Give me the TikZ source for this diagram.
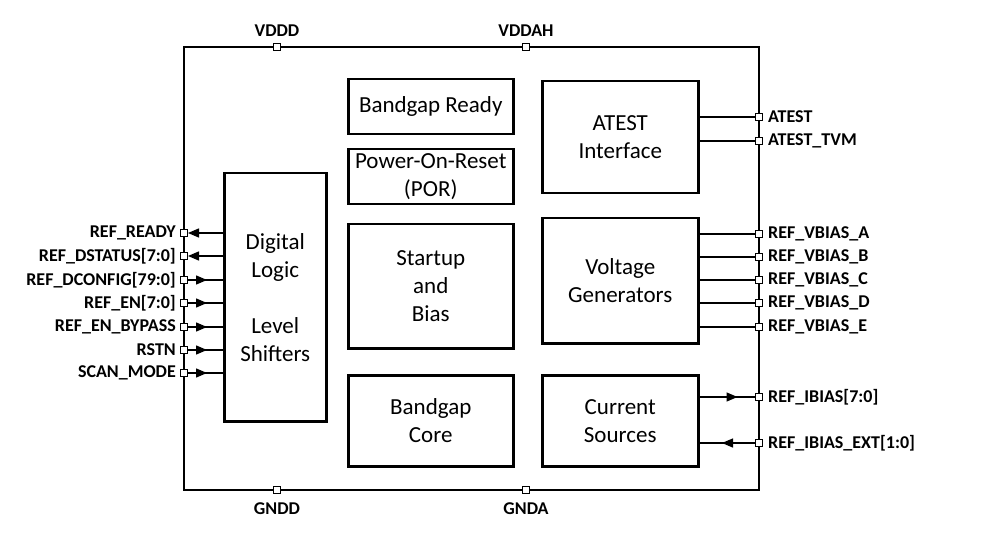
\documentclass[tikz,border=0pt]{standalone}
\usepackage{fontspec}
\setmainfont{Carlito}
\usetikzlibrary{arrows.meta,decorations.markings}
\begin{document}
\begin{tikzpicture}[x=1pt,y=-1pt,
  blk/.style={draw,line width=2.5pt,anchor=north west,inner sep=0pt,align=center,font=\fontsize{23}{28}\selectfont},
  pin/.style={draw,line width=1pt,fill=white,minimum size=7pt,inner sep=0pt},
  conn/.style={line width=1.3pt},
  tipat/.style={postaction={decorate},decoration={markings,mark=at position #1 with {\arrow{Triangle[length=11pt,width=9pt]}}}},
  plab/.style={font=\fontsize{18}{20}\selectfont\bfseries,inner sep=0pt}]
\useasboundingbox (0,0) rectangle (996,545);
% outer box
\draw[line width=2.6pt] (184,47) rectangle (759,490);
% blocks
\node[blk,minimum width=102pt,minimum height=248pt] (dl) at (223,172) {Digital\\Logic\\[28pt]Level\\Shifters};
\node[blk,minimum width=165pt,minimum height=55pt] (bgr) at (347,78) {Bandgap Ready};
\node[blk,minimum width=165pt,minimum height=55pt] (por) at (347,148) {Power-On-Reset\\(POR)};
\node[blk,minimum width=165pt,minimum height=124pt] (sb) at (347,223) {Startup\\and\\Bias};
\node[blk,minimum width=165pt,minimum height=91pt] (bgc) at (347,374) {Bandgap\\Core};
\node[blk,minimum width=156pt,minimum height=112pt] (at) at (541,80) {ATEST\\Interface};
\node[blk,minimum width=156pt,minimum height=125pt] (vg) at (541,217) {Voltage\\Generators};
\node[blk,minimum width=156pt,minimum height=91pt] (cs) at (541,374) {Current\\Sources};
% supply pins
\node[pin] (vddd) at (277,47) {};
\node[pin] (vddah) at (526,47) {};
\node[pin] (gndd) at (277,490) {};
\node[pin] (gnda) at (526,490) {};
\node[plab,anchor=base] (lvddd) at (277,37) {VDDD};
\node[plab,anchor=base] (lvddah) at (526,37) {VDDAH};
\node[plab,anchor=base] (lgndd) at (277,514) {GNDD};
\node[plab,anchor=base] (lgnda) at (526,514) {GNDA};
% left pins
\foreach \n/\y/\t in {p1/233/REF\_READY,p2/256/REF\_DSTATUS[7:0],p3/280/REF\_DCONFIG[79:0],p4/303/REF\_EN[7:0],p5/327/REF\_EN\_BYPASS,p6/350/RSTN,p7/373/SCAN\_MODE}{
  \node[pin] (\n) at (184,\y) {};
  \node[plab,anchor=east] (l\n) at (176,\y) {\t};
}
\draw[conn,-{Triangle[length=11pt,width=9pt]}] (dl.west|-p1) -- (p1.east);
\draw[conn,-{Triangle[length=11pt,width=9pt]}] (dl.west|-p2) -- (p2.east);
\foreach \n in {p3,p4,p5,p6,p7}{
  \draw[conn,tipat=19pt] (\n.east) -- (dl.west|-\n);
}
% right pins
\foreach \n/\y/\t in {r1/117/ATEST,r2/141/ATEST\_TVM,r3/234/REF\_VBIAS\_A,r4/257/REF\_VBIAS\_B,r5/280/REF\_VBIAS\_C,r6/303/REF\_VBIAS\_D,r7/327/REF\_VBIAS\_E,r8/397/REF\_IBIAS[7:0],r9/443/REF\_IBIAS\_EXT[1:0]}{
  \node[pin] (\n) at (759,\y) {};
  \node[plab,anchor=west] (l\n) at (768,\y) {\t};
}
\foreach \n in {r1,r2}{\draw[conn] (at.east|-\n) -- (\n.west);}
\foreach \n in {r3,r4,r5,r6,r7}{\draw[conn] (vg.east|-\n) -- (\n.west);}
\draw[conn,tipat=38pt] (cs.east|-r8) -- (r8.west);
\draw[conn,tipat=33pt] (r9.west) -- (cs.east|-r9);
\end{tikzpicture}
\end{document}
